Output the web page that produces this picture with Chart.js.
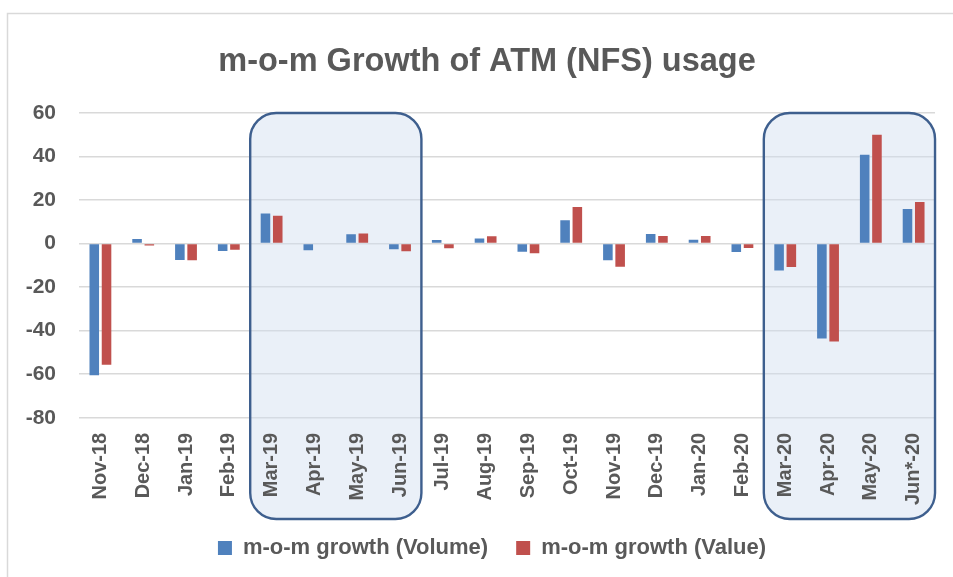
<!DOCTYPE html>
<html>
<head>
<meta charset="utf-8">
<script src="https://cdn.jsdelivr.net/npm/chart.js@4"></script>
<style>
  html, body { margin: 0; padding: 0; background: #ffffff; }
  #wrap { width: 953px; height: 577px; position: relative; }
</style>
</head>
<body>
<div id="wrap"><canvas id="c" width="953" height="577"></canvas></div>
<script>
const categories = ['Nov-18','Dec-18','Jan-19','Feb-19','Mar-19','Apr-19','May-19','Jun-19','Jul-19','Aug-19','Sep-19','Oct-19','Nov-19','Dec-19','Jan-20','Feb-20','Mar-20','Apr-20','May-20','Jun*-20'];
const volumeGrowth = [-60.5, 2.1, -7.5, -3.4, 13.8, -3.1, 4.3, -2.6, 1.7, 2.3, -3.7, 10.7, -7.6, 4.4, 1.8, -3.8, -12.4, -43.6, 40.8, 15.9];
const valueGrowth  = [-55.7, -0.9, -7.6, -2.8, 12.8, 0, 4.6, -3.5, -2.1, 3.4, -4.4, 16.8, -10.6, 3.5, 3.5, -2.0, -10.7, -45.0, 50.0, 19.1];
const seriesNames = ['m-o-m growth (Volume)', 'm-o-m growth (Value)'];
const yMin = -80, yMax = 60, yStep = 20;
const highlightRanges = [['Mar-19','Jun-19'], ['Mar-20','Jun*-20']];
const titleText = 'm-o-m Growth of ATM (NFS) usage';

const TEXT = '#595959';
const FONT = "'Liberation Sans', Arial, sans-serif";

const highlightPlugin = {
  id: 'highlights',
  afterLayout(chart) {
    // centre title and legend on the framed chart area (frame starts at x=7 and runs past the right edge)
    if (chart.titleBlock) chart.titleBlock.left = 36;
    if (chart.legend) chart.legend.left = 46;
  },
  beforeDraw(chart) {
    const ctx = chart.ctx;
    ctx.save();
    ctx.strokeStyle = '#D9D9D9';
    ctx.lineWidth = 1.5;
    ctx.strokeRect(7.5, 13.5, chart.width + 20, chart.height + 20);
    ctx.restore();
  },
  _boxes(chart) {
    const xs = chart.scales.x, ys = chart.scales.y;
    const half = (xs.getPixelForValue(1) - xs.getPixelForValue(0)) / 2;
    return highlightRanges.map(([a, b]) => {
      const i0 = categories.indexOf(a), i1 = categories.indexOf(b);
      return {
        left: xs.getPixelForValue(i0) - half,
        right: xs.getPixelForValue(i1) + half,
        top: ys.getPixelForValue(yMax),
        bottom: xs.bottom + 10
      };
    });
  },
  _path(ctx, b, r) {
    ctx.beginPath();
    if (ctx.roundRect) {
      ctx.roundRect(b.left, b.top, b.right - b.left, b.bottom - b.top, r);
    } else {
      ctx.rect(b.left, b.top, b.right - b.left, b.bottom - b.top);
    }
  },
  beforeDatasetsDraw(chart) {
    const ctx = chart.ctx;
    ctx.save();
    ctx.fillStyle = 'rgba(208,222,240,0.45)';
    this._boxes(chart).forEach(b => { this._path(ctx, b, 26); ctx.fill(); });
    ctx.restore();
  },
  afterDatasetsDraw(chart) {
    const ctx = chart.ctx;
    ctx.save();
    ctx.strokeStyle = '#3E5F8E';
    ctx.lineWidth = 2.4;
    this._boxes(chart).forEach(b => { this._path(ctx, b, 26); ctx.stroke(); });
    ctx.restore();
  }
};

new Chart(document.getElementById('c'), {
  type: 'bar',
  data: {
    labels: categories,
    datasets: [
      { label: seriesNames[0], data: volumeGrowth, backgroundColor: '#4F81BD', borderWidth: 0 },
      { label: seriesNames[1], data: valueGrowth, backgroundColor: '#C0504D', borderWidth: 0 }
    ]
  },
  options: {
    responsive: false,
    animation: false,
    devicePixelRatio: 1,
    layout: { padding: { left: 0, right: 15, top: 0, bottom: 8 } },
    datasets: { bar: { categoryPercentage: 0.573, barPercentage: 0.78 } },
    plugins: {
      title: {
        display: true,
        text: titleText,
        color: TEXT,
        font: { family: FONT, size: 32.5, weight: 'bold' },
        padding: { top: 43, bottom: 31 }
      },
      legend: {
        position: 'bottom',
        labels: {
          color: TEXT,
          font: { family: FONT, size: 22, weight: 'bold' },
          boxWidth: 14,
          boxHeight: 14,
          padding: 28
        }
      },
      tooltip: { enabled: false }
    },
    scales: {
      x: {
        afterFit(scale) { scale.height -= 11; },
        grid: { display: false, drawTicks: false },
        border: { display: false },
        ticks: {
          color: TEXT,
          font: { family: FONT, size: 20, weight: 'bold' },
          maxRotation: 90, minRotation: 90,
          padding: 15,
          autoSkip: false,
          z: 1
        }
      },
      y: {
        min: yMin, max: yMax,
        afterFit(scale) { scale.width = 79; },
        grid: { color: '#D9D9D9', lineWidth: 1.5, drawTicks: false },
        border: { display: false },
        ticks: {
          stepSize: yStep,
          color: TEXT,
          font: { family: FONT, size: 21, weight: 'bold' },
          padding: 23
        }
      }
    }
  },
  plugins: [highlightPlugin]
});
</script>
</body>
</html>
